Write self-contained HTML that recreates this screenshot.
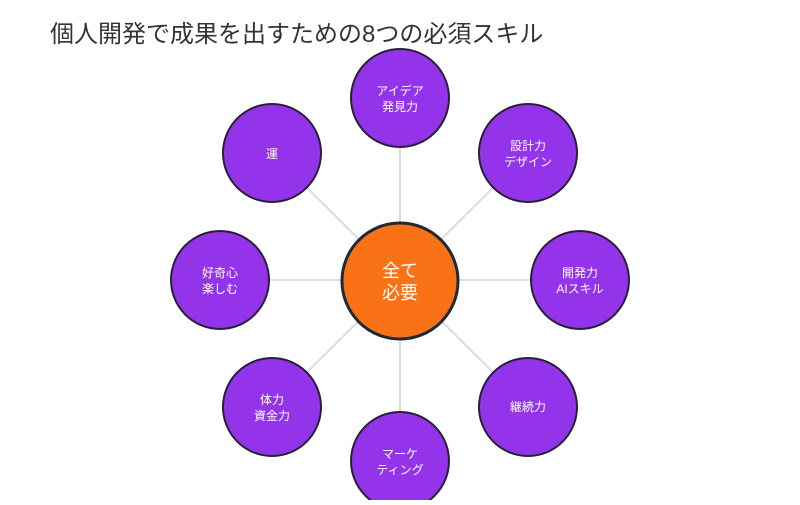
<!DOCTYPE html>
<html><head><meta charset="utf-8"><style>
body{margin:0;width:800px;height:500px;background:#fff;overflow:hidden;font-family:"Liberation Sans","Noto Sans CJK JP",sans-serif}
</style></head><body>
<svg width="800" height="500" viewBox="0 0 800 500" xmlns="http://www.w3.org/2000/svg" font-family="Liberation Sans, Noto Sans CJK JP, sans-serif">
<text x="50" y="42" font-size="24" fill="#333">個人開発で成果を出すための8つの必須スキル</text>
<g stroke="#dddddd" stroke-width="2">
<line x1="400" y1="280" x2="400" y2="98"/>
<line x1="400" y1="280" x2="528" y2="153"/>
<line x1="400" y1="280" x2="580" y2="280"/>
<line x1="400" y1="280" x2="528" y2="407"/>
<line x1="400" y1="280" x2="400" y2="461"/>
<line x1="400" y1="280" x2="272" y2="407"/>
<line x1="400" y1="280" x2="220" y2="280"/>
<line x1="400" y1="280" x2="272" y2="153"/>
</g>
<g fill="#9333ea" stroke="#2a1f3a" stroke-width="2">
<circle cx="400" cy="98" r="49"/>
<circle cx="528" cy="153" r="49"/>
<circle cx="580" cy="280" r="49"/>
<circle cx="528" cy="407" r="49"/>
<circle cx="400" cy="461" r="49"/>
<circle cx="272" cy="407" r="49"/>
<circle cx="220" cy="280" r="49"/>
<circle cx="272" cy="153" r="49"/>
</g>
<circle cx="400" cy="281" r="58" fill="#f97316" stroke="#1f2937" stroke-width="3"/>
<g fill="#fff" font-size="12" text-anchor="middle">
<text x="400" y="95">アイデア</text><text x="400" y="111">発見力</text>
<text x="528" y="150">設計力</text><text x="528" y="166">デザイン</text>
<text x="580" y="277">開発力</text><text x="580" y="293">AIスキル</text>
<text x="528" y="411">継続力</text>
<text x="400" y="458">マーケ</text><text x="400" y="474">ティング</text>
<text x="272" y="404">体力</text><text x="272" y="420">資金力</text>
<text x="220" y="277">好奇心</text><text x="220" y="293">楽しむ</text>
<text x="272" y="158">運</text>
</g>
<g fill="#fff" font-size="18" text-anchor="middle">
<text x="400" y="277">全て</text><text x="400" y="299">必要</text>
</g>
</svg>
</body></html>
